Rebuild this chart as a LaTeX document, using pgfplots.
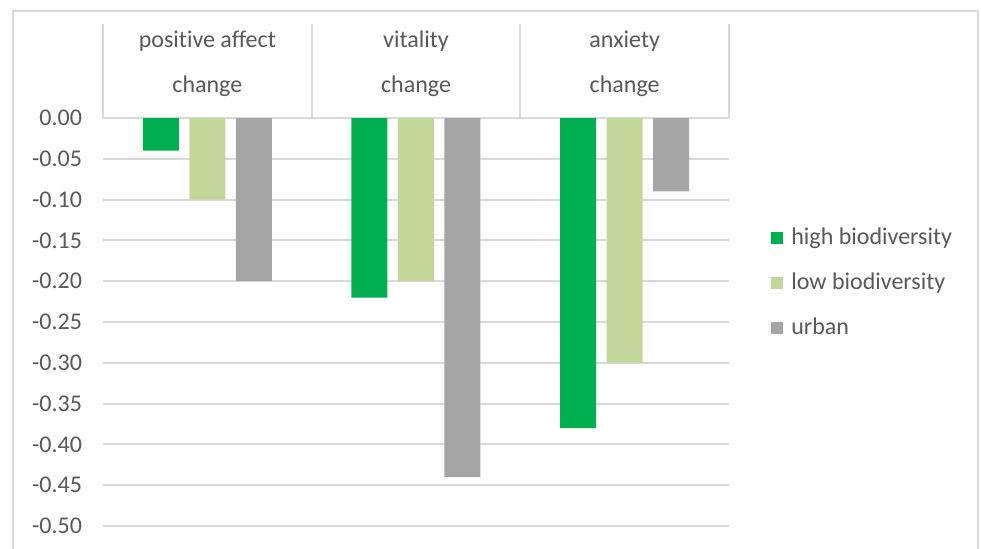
\documentclass[border=0pt]{standalone}
\usepackage{pgfplots}
\pgfplotsset{compat=1.18}
\usepackage{fontspec}
\setmainfont{Carlito}[Ligatures=NoCommon]
\definecolor{hibio}{HTML}{00B050}
\definecolor{lobio}{HTML}{C4D79B}
\definecolor{urban}{HTML}{A5A5A5}
\definecolor{txt}{HTML}{595959}
\definecolor{gridc}{HTML}{D9D9D9}
\pgfplotsset{sqlegend/.style={legend image code/.code={\fill[##1, draw=none] (0pt,-3pt) rectangle (6pt,3pt);}}}
\tikzset{catlabel/.style={anchor=base, inner sep=0pt, text=txt, font=\fontsize{12}{14}\selectfont}}
\begin{document}
\begin{tikzpicture}
\useasboundingbox (0,0) rectangle (490.5pt,-274pt);
% outer chart frame (bottom edge is cut off in the reference)
\draw[gridc, line width=1pt] (6.5pt,-290pt) -- (6.5pt,-5.5pt) -- (489pt,-5.5pt) -- (489pt,-290pt);
\begin{axis}[
    at={(51.5pt,-263pt)}, anchor=south west,
    scale only axis, width=313pt, height=204pt,
    ybar=5.25pt, bar width=18pt,
    xmin=-0.5, xmax=2.5, ymin=-0.5, ymax=0,
    xtick=\empty,
    ytick={0,-0.05,-0.1,-0.15,-0.2,-0.25,-0.3,-0.35,-0.4,-0.45,-0.5},
    yticklabels={0.00,-0.05,-0.10,-0.15,-0.20,-0.25,-0.30,-0.35,-0.40,-0.45,-0.50},
    axis line style={draw=none},
    major tick length=0pt,
    ymajorgrids, grid style={gridc, line width=1pt},
    yticklabel style={font=\fontsize{12}{14}\selectfont, text=txt, xshift=-7pt},
    clip=false,
    legend style={at={(1.0671,0.5956)}, anchor=west, draw=none, fill=none,
        inner sep=0pt, row sep=10.5pt, font=\fontsize{12}{14}\selectfont, text=txt,
        nodes={inner sep=0pt, text height=9pt, text depth=3pt},
        /tikz/every odd column/.append style={column sep=4pt}},
    legend cell align=left,
]
% high biodiversity
\addplot[fill=hibio, draw=none, sqlegend] coordinates {(0,-0.04) (1,-0.22) (2,-0.38)};
% low biodiversity
\addplot[fill=lobio, draw=none, sqlegend] coordinates {(0,-0.10) (1,-0.20) (2,-0.30)};
% urban
\addplot[fill=urban, draw=none, sqlegend] coordinates {(0,-0.20) (1,-0.44) (2,-0.09)};
\legend{high biodiversity, low biodiversity, urban}

% category boxes above the zero line
\draw[gridc, line width=1pt] (axis cs:-0.5,0) -- ([yshift=47pt]axis cs:-0.5,0);
\draw[gridc, line width=1pt] (axis cs:0.5,0) -- ([yshift=47pt]axis cs:0.5,0);
\draw[gridc, line width=1pt] (axis cs:1.5,0) -- ([yshift=47pt]axis cs:1.5,0);
\draw[gridc, line width=1pt] (axis cs:2.5,0) -- ([yshift=47pt]axis cs:2.5,0);
\node[catlabel, yshift=35.5pt] at (axis cs:0,0) {positive affect};
\node[catlabel, yshift=13pt] at (axis cs:0,0) {change};
\node[catlabel, yshift=35.5pt] at (axis cs:1,0) {vitality};
\node[catlabel, yshift=13pt] at (axis cs:1,0) {change};
\node[catlabel, yshift=35.5pt] at (axis cs:2,0) {anxiety};
\node[catlabel, yshift=13pt] at (axis cs:2,0) {change};
\end{axis}
\end{tikzpicture}
\end{document}
